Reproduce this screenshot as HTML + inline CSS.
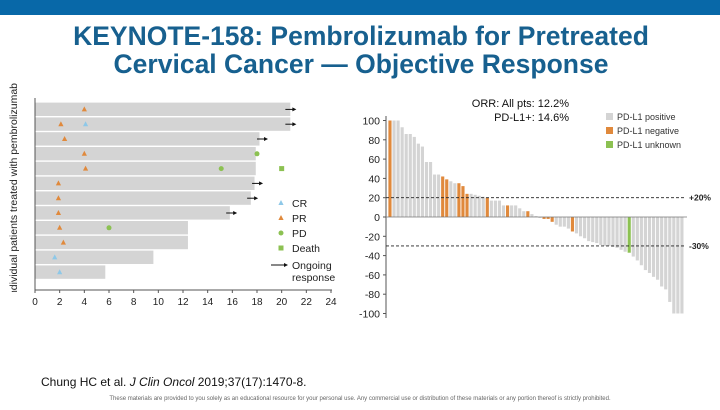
<!DOCTYPE html>
<html><head><meta charset="utf-8"><style>
html,body{margin:0;padding:0;background:#fff;}
body{width:720px;height:405px;overflow:hidden;position:relative;font-family:"Liberation Sans",sans-serif;}
</style></head><body>
<svg id="s" width="720" height="405" viewBox="0 0 720 405" xmlns="http://www.w3.org/2000/svg" font-family="Liberation Sans, sans-serif">
<defs><clipPath id="yc"><rect x="0" y="70" width="30" height="222"/></clipPath></defs>
<rect x="0" y="0" width="720" height="15" fill="#0868a8"/>
<text x="361" y="45" text-anchor="middle" font-size="26.5" font-weight="bold" fill="#17608f">KEYNOTE-158: Pembrolizumab for Pretreated</text>
<text x="361" y="73" text-anchor="middle" font-size="26.5" font-weight="bold" fill="#17608f">Cervical Cancer — Objective Response</text>
<g clip-path="url(#yc)"><text transform="translate(17,83) rotate(-90)" text-anchor="end" font-size="10.5" fill="#222">Individual patients treated with pembrolizumab</text></g>
<g id="sw"></g>
<g id="wf"></g>
<text x="41" y="386" font-size="12" fill="#111">Chung HC et al. <tspan font-style="italic">J Clin Oncol</tspan> 2019;37(17):1470-8.</text>
<text x="360" y="400" text-anchor="middle" font-size="6" fill="#666">These materials are provided to you solely as an educational resource for your personal use. Any commercial use or distribution of these materials or any portion thereof is strictly prohibited.</text>
</svg>
<script>
// Swimmer data
const swDurations=[20.7,20.7,18.2,17.9,17.9,17.8,17.5,15.8,12.4,12.4,9.6,5.7];
const swCR=[null,4.1,null,null,null,null,null,null,null,null,1.6,2.0];
const swPR=[4.0,2.1,2.4,4.0,4.1,1.9,1.9,1.9,2.0,2.3,null,null];
const swPD=[null,null,null,18.0,15.1,null,null,null,6.0,null,null,null];
const swDeath=[null,null,null,null,20.0,null,null,null,null,null,null,null];
const swArrowStart=[20.3,20.3,18.0,null,null,17.6,17.2,15.5,null,null,null,null];
const swTicks=[0,2,4,6,8,10,12,14,16,18,20,22,24];
// Waterfall data
const wfValues=[100,100,100,93,86,86,83,76,73,57,57,44,44,42,39,37,35,35,32,24,24,23,22,21,20,17,17,17,12,12,12,12,9,6,6,3,1,-1,-2,-2,-5,-8,-10,-10,-12,-15,-17,-20,-22,-25,-26,-27,-29,-30,-30,-31,-32,-34,-36,-37,-41,-45,-50,-55,-58,-62,-65,-72,-75,-88,-100,-100,-100];
const wfStatus=['n','p','p','p','p','p','p','p','p','p','p','p','p','n','n','p','p','n','n','n','p','p','p','p','n','p','p','p','p','n','p','p','p','p','n','p','p','p','n','n','n','p','p','p','p','n','p','p','p','p','p','p','p','p','p','p','p','p','p','u','p','p','p','p','p','p','p','p','p','p','p','p','p'];
const wfTicks=[100,80,60,40,20,0,-20,-40,-60,-80,-100];
const wfRefLines=[20,-30];

const NS='http://www.w3.org/2000/svg';
function mk(tag,attrs,parent){const e=document.createElementNS(NS,tag);for(const k in attrs)e.setAttribute(k,attrs[k]);parent.appendChild(e);return e;}

// Swimmer
const sw=document.getElementById('sw');
const sx=v=>35+v*(331-35)/24;
const rowTop=102,rowH=14.8;
const sy=i=>rowTop+i*rowH;
swDurations.forEach((d,i)=>{
  const r=mk('rect',{x:sx(0),y:sy(i)+0.6,width:sx(d)-sx(0),height:rowH-1.4,fill:'#d4d4d4'},sw);
  
  
});
function tri(x,y,c,name){const t=mk('polygon',{points:`${x},${y-3} ${x-2.6},${y+2} ${x+2.6},${y+2}`,fill:c},sw);}
swDurations.forEach((d,i)=>{
  const cy=sy(i)+rowH/2;
  if(swPR[i]!=null)tri(sx(swPR[i]),cy,'#e0893c','pr-marker');
  if(swCR[i]!=null)tri(sx(swCR[i]),cy,'#8ec8e8','cr-marker');
  if(swPD[i]!=null){const c=mk('circle',{cx:sx(swPD[i]),cy:cy,r:2.5,fill:'#8cc152'},sw);}
  if(swDeath[i]!=null){const q=mk('rect',{x:sx(swDeath[i])-2.5,y:cy-2.5,width:5,height:5,fill:'#8cc152'},sw);}
  if(swArrowStart[i]!=null){const x0=sx(swArrowStart[i]),x1=x0+11;
    const l=mk('line',{x1:x0,y1:cy,x2:x1-3,y2:cy,stroke:'#111','stroke-width':1},sw);
    mk('polygon',{points:`${x1},${cy} ${x1-4},${cy-2} ${x1-4},${cy+2}`,fill:'#111'},sw);}
});
mk('line',{x1:35,y1:98,x2:35,y2:290,stroke:'#555','stroke-width':1},sw);
mk('line',{x1:35,y1:290,x2:332,y2:290,stroke:'#555','stroke-width':1},sw);
swTicks.forEach(t=>{
  mk('line',{x1:sx(t),y1:290,x2:sx(t),y2:293,stroke:'#555'},sw);
  const tx=mk('text',{x:sx(t),y:305,'text-anchor':'middle','font-size':10,fill:'#222'},sw);tx.textContent=t;
  
});
// swimmer legend
const lg=[['cr','#8ec8e8','CR'],['pr','#e0893c','PR'],['pd','#8cc152','PD'],['death','#8cc152','Death']];
lg.forEach((e,i)=>{const y=203+i*15;
  if(e[0]=='cr'||e[0]=='pr')tri(281,y,e[1],'legend-'+e[0]+'-marker');
  else if(e[0]=='pd')mk('circle',{cx:281,cy:y,r:2.5,fill:e[1]},sw);
  else mk('rect',{x:278.5,y:y-2.5,width:5,height:5,fill:e[1]},sw);
  const t=mk('text',{x:292,y:y+4,'font-size':10.5,fill:'#222'},sw);t.textContent=e[2];
  });
mk('line',{x1:271,y1:265,x2:284,y2:265,stroke:'#111'},sw);
mk('polygon',{points:'288,265 284,263 284,267',fill:'#111'},sw);
const og=mk('text',{x:292,y:269,'font-size':10.5,fill:'#222'},sw);og.textContent='Ongoing';
const og2=mk('text',{x:292,y:281,'font-size':10.5,fill:'#222'},sw);og2.textContent='response';


// Waterfall
const wf=document.getElementById('wf');
const x0=388,x1=684;
const wy=v=>217-v*0.965;
const pitch=(x1-x0)/wfValues.length;
const col={p:'#d4d4d4',n:'#e0893c',u:'#8cc152'};
wfValues.forEach((v,i)=>{
  const y=Math.min(wy(v),wy(0)),h=Math.abs(wy(v)-wy(0));
  const r=mk('rect',{x:x0+i*pitch+0.4,y:y,width:pitch-0.9,height:Math.max(h,0.6),fill:col[wfStatus[i]]},wf);
  
  
});
mk('line',{x1:386,y1:116,x2:386,y2:318,stroke:'#555'},wf);
mk('line',{x1:386,y1:wy(0),x2:687,y2:wy(0),stroke:'#777','stroke-width':0.8},wf);
wfTicks.forEach(t=>{
  mk('line',{x1:383,y1:wy(t),x2:386,y2:wy(t),stroke:'#555'},wf);
  const tx=mk('text',{x:380,y:wy(t)+4,'text-anchor':'end','font-size':10.5,fill:'#222'},wf);tx.textContent=t;
  
});
wfRefLines.forEach(r=>{
  const l=mk('line',{x1:386,y1:wy(r),x2:686,y2:wy(r),stroke:'#222','stroke-dasharray':'3,2','stroke-width':0.9},wf);
  
  const t=mk('text',{x:689,y:wy(r)+3,'font-size':8.5,'font-weight':'bold',fill:'#222'},wf);t.textContent=(r>0?'+':'')+r+'%';
});
const o1=mk('text',{x:569,y:107,'text-anchor':'end','font-size':11,fill:'#111'},wf);o1.textContent='ORR: All pts: 12.2%';

const o2=mk('text',{x:569,y:121,'text-anchor':'end','font-size':11,fill:'#111'},wf);o2.textContent='PD-L1+: 14.6%';

[['#d4d4d4','PD-L1 positive'],['#e0893c','PD-L1 negative'],['#8cc152','PD-L1 unknown']].forEach((e,i)=>{
  const y=117+i*14;
  mk('rect',{x:606,y:y-4,width:7,height:7,fill:e[0]},wf);
  const t=mk('text',{x:617,y:y+3,'font-size':9,fill:'#333'},wf);t.textContent=e[1];
  
});
</script>
</body></html>
